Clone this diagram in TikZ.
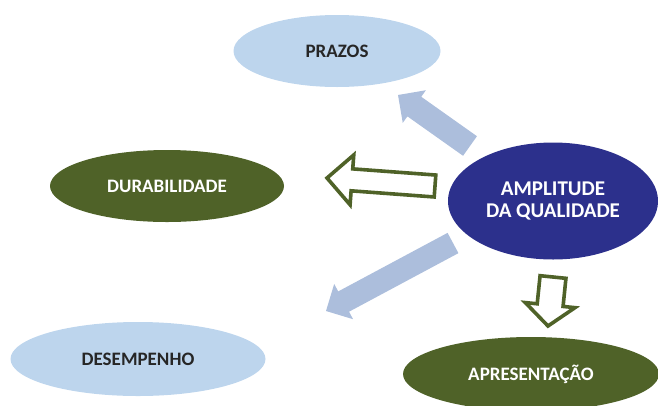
\documentclass[tikz,border=0pt]{standalone}
\usepackage{fontspec}
\setmainfont{Carlito}
\usetikzlibrary{shapes.geometric,calc}
\definecolor{lightblue}{RGB}{189,213,237}
\definecolor{arrowblue}{RGB}{172,190,220}
\definecolor{olive}{RGB}{79,98,40}
\definecolor{navy}{RGB}{44,48,140}
\tikzset{
  oval/.style={ellipse, inner sep=0pt, font=\bfseries\fontsize{19}{22}\selectfont},
  lightoval/.style={oval, fill=lightblue, text=black!85},
  greenoval/.style={oval, fill=olive, text=white},
  navyoval/.style={oval, fill=navy, text=white, align=center, font=\bfseries\fontsize{21}{21.5}\selectfont},
  bluearrow/.style={fill=arrowblue},
  greenarrow/.style={draw=olive, line width=3.6pt, fill=white, line join=miter},
}
\newcommand{\blockarrow}[6]{%
  \path[#1] ($(#2)!#4!90:(#3)$)
    -- ($($(#3)!#6!(#2)$)!#4!-90:(#2)$)
    -- ($($(#3)!#6!(#2)$)!#5!-90:(#2)$)
    -- (#3)
    -- ($($(#3)!#6!(#2)$)!#5!90:(#2)$)
    -- ($($(#3)!#6!(#2)$)!#4!90:(#2)$)
    -- ($(#2)!#4!-90:(#3)$) -- cycle;}
\begin{document}
\begin{tikzpicture}[x=1pt,y=-1pt]
\useasboundingbox (0,0) rectangle (658,405);
\node[lightoval, minimum width=207pt, minimum height=72pt] (prazos) at (337,51) {PRAZOS};
\node[greenoval, minimum width=234pt, minimum height=72pt] (dur) at (167,186) {DURABILIDADE};
\node[navyoval, minimum width=210pt, minimum height=117pt] (amp) at (553,201) {AMPLITUDE\\DA QUALIDADE};
\node[lightoval, minimum width=255pt, minimum height=74pt] (des) at (138,359) {DESEMPENHO};
\node[greenoval, minimum width=256pt, minimum height=74pt] (apr) at (531,374) {APRESENTAÇÃO};
\coordinate (a1s) at (470,146); \coordinate (a1e) at (398,95);
\coordinate (a2s) at (435,186); \coordinate (a2e) at (327,178);
\coordinate (a3s) at (453,243); \coordinate (a3e) at (326,311);
\coordinate (a4s) at (553,277); \coordinate (a4e) at (548,326);
\blockarrow{bluearrow}{a1s}{a1e}{12pt}{20pt}{20pt}
\blockarrow{greenarrow}{a2s}{a2e}{11pt}{25pt}{25pt}
\blockarrow{bluearrow}{a3s}{a3e}{11.5pt}{20pt}{20pt}
\blockarrow{greenarrow}{a4s}{a4e}{13pt}{25pt}{21pt}
\end{tikzpicture}
\end{document}
